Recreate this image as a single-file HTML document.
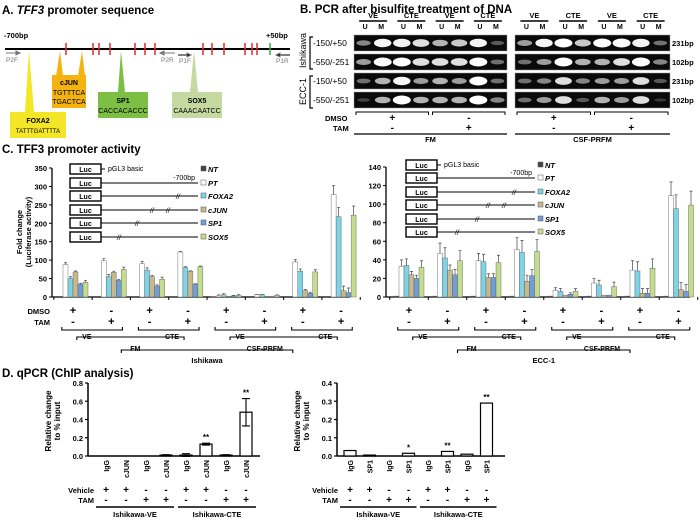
<!DOCTYPE html>
<html><head><meta charset="utf-8">
<style>
html,body{margin:0;padding:0;background:#fff;}
svg{display:block;font-family:"Liberation Sans",Arial,sans-serif;}
.b{font-weight:bold;}
</style></head>
<body>
<svg id="fig" width="700" height="524" viewBox="0 0 700 524" xmlns="http://www.w3.org/2000/svg">
<!-- Panel A -->
<g>
<text x="2" y="14" font-size="11.5" class="b">A. <tspan font-style="italic">TFF3</tspan> promoter sequence</text>
<text x="4" y="38" font-size="7.5" class="b">-700bp</text>
<text x="266" y="38" font-size="7.5" class="b">+50bp</text>
<line x1="5" y1="49" x2="290" y2="49" stroke="#000" stroke-width="2"/>
<g id="ticksA"></g>
<g stroke="#777" fill="#777" font-size="6.5">
<line x1="6" y1="53" x2="19" y2="53"/><path d="M20 53 l-4 -2 v4z"/><text x="6" y="62" stroke="none">P2F</text>
<line x1="162" y1="53" x2="175" y2="53"/><path d="M160 53 l4 -2 v4z"/><text x="161" y="62" stroke="none">P2R</text>
<line x1="178" y1="55" x2="189" y2="55" stroke="#000"/><path d="M191 55 l-4 -2 v4z" fill="#000"/><text x="179" y="63" stroke="none">P1F</text>
<line x1="278" y1="55" x2="290" y2="55" stroke="#000"/><path d="M276 55 l4 -2 v4z" fill="#000"/><text x="276" y="63" stroke="none">P1R</text>
</g>
<polygon points="29,51 25,112 34,112" fill="#f3e626"/>
<rect x="10" y="112" width="56" height="26" fill="#f3e626"/>
<text x="38" y="123" font-size="7" class="b" text-anchor="middle">FOXA2</text>
<text x="38" y="133" font-size="6" text-anchor="middle">TATTTGATTTTA</text>
<polygon points="60,51 56,76 63,76" fill="#f5b30f"/><polygon points="82,51 78,76 85,76" fill="#f5b30f"/>
<rect x="52" y="75" width="34" height="33" fill="#f5b30f"/>
<text x="69" y="85" font-size="7" class="b" text-anchor="middle">cJUN</text>
<text x="69" y="95" font-size="7" text-anchor="middle">TGTTTCA</text>
<text x="69" y="104" font-size="7" text-anchor="middle">TGACTCA</text>
<polygon points="121,51 118,92 125,92" fill="#7cbf44"/>
<rect x="98" y="92" width="50" height="26" fill="#7cbf44"/>
<text x="123" y="103" font-size="7" class="b" text-anchor="middle">SP1</text>
<text x="123" y="113" font-size="7" text-anchor="middle">CACCACACCC</text>
<polygon points="194,51 190,92 198,92" fill="#c5d9a0"/>
<rect x="172" y="92" width="50" height="26" fill="#c5d9a0"/>
<text x="197" y="103" font-size="7" class="b" text-anchor="middle">SOX5</text>
<text x="197" y="113" font-size="7" text-anchor="middle">CAAACAATCC</text>
</g>
<!-- Panel B -->
<g>
<text x="300" y="13" font-size="11.5" class="b">B. PCR after bisulfite treatment of DNA</text>
<g font-size="8.5">
<text x="313" y="46">-150/+50</text><text x="313" y="65">-550/-251</text><text x="313" y="84">-150/+50</text><text x="313" y="103">-550/-251</text>
<text transform="translate(306,68) rotate(-90)" font-size="9">Ishikawa</text>
<text transform="translate(306,105) rotate(-90)" font-size="9">ECC-1</text>
<path d="M313 37 h-3 v32 h3 M313 76 h-3 v32 h3" fill="none" stroke="#000" stroke-width="1.2"/>
</g>
<g id="gelB"></g>
<g font-size="7.5" class="b">
<text x="672" y="46">231bp</text><text x="672" y="65">102bp</text><text x="672" y="84">231bp</text><text x="672" y="103">102bp</text>
</g>
<g class="b" font-size="7.5">
<text x="325" y="121">DMSO</text><text x="333" y="131">TAM</text>
</g>
</g>
<!-- Panel C -->
<g>
<text x="2" y="153" font-size="11.5" class="b">C. TFF3 promoter activity</text>
<text transform="translate(22,232) rotate(-90)" font-size="7.5" class="b" text-anchor="middle">Fold change</text>
<text transform="translate(31,232) rotate(-90)" font-size="7.5" class="b" text-anchor="middle">(Luciferase activity)</text>
<g id="chartL"></g><g id="chartR"></g>
</g>
<!-- Panel D -->
<g>
<text x="2" y="377" font-size="11.5" class="b">D. qPCR (ChIP analysis)</text>
<g id="chartD1"></g><g id="chartD2"></g>
</g>
</svg>
<script>
// ===== data =====
const tickPositionsA = [66,93,99,110,135,145,155,203,212,224,245,252,257];
const seriesNames = ['NT','PT','FOXA2','cJUN','SP1','SOX5'];
const seriesColors = ['#444','#fff','#7fd3e6','#c8b98c','#6f9fd8','#c3dc8e'];
const ishiNT   = [0,0,0,0,1,0,0,0];
const ishiPT   = [88,98,90,122,3,6,95,278];
const ishiFOXA2= [50,55,73,80,6,6,70,218];
const ishiCJUN = [68,67,55,70,2,1,17,17];
const ishiSP1  = [35,45,30,35,3,1,10,12];
const ishiSOX5 = [40,75,48,82,4,5,68,222];
const ishiErr  = [5,6,6,2,3,1,6,25];
const eccNT    = [1,1,1,1,1,1,1,1];
const eccPT    = [33,47,39,51,7,15,29,109];
const eccFOXA2 = [34,42,38,48,6,13,28,95];
const eccCJUN  = [24,29,21,17,2,2,4,8];
const eccSP1   = [20,24,21,23,3,2,4,6];
const eccSOX5  = [32,39,37,49,6,11,31,99];
const eccErr   = [7,11,8,13,3,5,10,15];
const dmsoSigns = ['+','-','+','-','+','-','+','-'];
const tamSigns  = ['-','+','-','+','-','+','-','+'];
const ishiTicks = [0,50,100,150,200,250,300,350];
const eccTicks  = [0,20,40,60,80,100,120,140];
const chipCats1 = ['IgG','cJUN','IgG','cJUN','IgG','cJUN','IgG','cJUN'];
const chipVals1 = [0,0,0,0.01,0.01,0.13,0.01,0.48];
const chipErr1  = [0,0,0,0.005,0.015,0.01,0.005,0.15];
const chipStar1 = ['','','','','','**','','**'];
const chipTicks1 = [0,0.2,0.4,0.6,0.8];
const chipCats2 = ['IgG','SP1','IgG','SP1','IgG','SP1','IgG','SP1'];
const chipVals2 = [0.03,0.005,0,0.015,0,0.025,0.01,0.29];
const chipStar2 = ['','','','*','','**','','**'];
const chipTicks2 = [0,0.1,0.2,0.3,0.4];
const vehSigns = ['+','+','-','-','+','+','-','-'];
const tamD = ['-','-','+','+','-','-','+','+'];
const gelIntensity = [
 [0.4,0.9,0.9,0.8,0.6,0.7,0.9,0.2, 0.5,0.9,1,0.7,1,1,0.9,0.3],
 [0.5,1,1,0.8,0.8,0.8,1,0.3, 0.3,0.5,1,0.6,0.6,0.8,1,0.4],
 [0.3,0.6,0.9,0.5,0.6,0.5,1,0.3, 0.3,0.4,0.8,0.4,0.5,0.5,0.8,0.2],
 [0.1,0.6,1,0.6,0.6,0.6,1,0.4, 0.3,0.5,0.8,0.2,0.6,0.5,0.8,0.05]
];
// ===== helpers =====
const NS='http://www.w3.org/2000/svg';
function mk(parent,tag,attrs,text){const e=document.createElementNS(NS,tag);for(const k in attrs)e.setAttribute(k,attrs[k]);if(text!==undefined)e.textContent=text;parent.appendChild(e);return e;}
// A ticks
const tA=document.getElementById('ticksA');
tickPositionsA.forEach(x=>{const l=mk(tA,'line',{x1:x,y1:43,x2:x,y2:55,stroke:'#e8262b','stroke-width':1.5});

});
{const l=mk(tA,'line',{x1:270,y1:43,x2:270,y2:55,stroke:'#3aa54a','stroke-width':1.5});}
// B gels
const gB=document.getElementById('gelB');
const rowsY=[35,54,73,92];
[[354,507],[515,670]].forEach((g,gi)=>{
  const w=g[1]-g[0];
  rowsY.forEach((ry,ri)=>{
    const r=mk(gB,'rect',{x:g[0],y:ry,width:w,height:16,fill:'#0a0a0a',stroke:'#999','stroke-width':0.5});
    
    
    for(let k=0;k<8;k++){const v=gelIntensity[ri][gi*8+k];const cx=g[0]+w*(k+0.5)/8;
      mk(gB,'ellipse',{cx:cx,cy:ry+8,rx:6+3*v,ry:1.5+3*v,fill:'#fff',opacity:Math.min(1,0.15+v*0.9)});}
  });
  ['VE','CTE','VE','CTE'].forEach((t,k)=>{const cx=g[0]+w*(2*k+1)/8;
    mk(gB,'text',{x:cx,y:18,'font-size':7.5,'text-anchor':'middle','font-weight':'bold'},t);
    mk(gB,'line',{x1:cx-14,y1:21,x2:cx+14,y2:21,stroke:'#000','stroke-width':1.5});
    mk(gB,'text',{x:cx-8,y:29,'font-size':7,'text-anchor':'middle','font-weight':'bold'},'U');
    mk(gB,'text',{x:cx+8,y:29,'font-size':7,'text-anchor':'middle','font-weight':'bold'},'M');});
  [[g[0]+2,g[0]+w/2-2,'+','-'],[g[0]+w/2+2,g[1]-2,'-','+']].forEach(b=>{
    mk(gB,'path',{d:`M${b[0]} 115 v-3 h${b[1]-b[0]} v3`,fill:'none',stroke:'#000'});
    mk(gB,'text',{x:(b[0]+b[1])/2,y:121,'font-size':10,'text-anchor':'middle','font-weight':'bold'},b[2]);
    mk(gB,'text',{x:(b[0]+b[1])/2,y:131,'font-size':10,'text-anchor':'middle','font-weight':'bold'},b[3]);});
  mk(gB,'line',{x1:g[0],y1:134,x2:g[1],y2:134,stroke:'#000','stroke-width':1.2});
  mk(gB,'text',{x:(g[0]+g[1])/2,y:142,'font-size':7.5,'text-anchor':'middle','font-weight':'bold'},gi?'CSF-PRFM':'FM');
});
// C charts
function luciferase(id,o){
  const g=document.getElementById(id);
  const y=v=>o.y0-(v/o.max)*(o.y0-o.yTop);
  const gw=o.gw;
  mk(g,'line',{x1:o.x0,y1:o.y0,x2:o.x1,y2:o.y0,stroke:'#000','stroke-width':1.3});
  mk(g,'line',{x1:o.x0,y1:o.yTop,x2:o.x0,y2:o.y0,stroke:'#000','stroke-width':1.3});
  o.ticks.forEach(t=>{mk(g,'line',{x1:o.x0-3,y1:y(t),x2:o.x0,y2:y(t),stroke:'#000'});
    mk(g,'text',{x:o.x0-5,y:y(t)+3,'font-size':7.5,'text-anchor':'end','font-weight':'bold'},t);});
  for(let i=0;i<=8;i++){const x=o.x0+o.off+gw*i-gw/2;mk(g,'line',{x1:x,y1:o.y0,x2:x,y2:o.y0+3,stroke:'#000'});}
  const series=o.series;
  for(let gi=0;gi<8;gi++){
    const cx=o.x0+o.off+gw*gi;
    series.forEach((s,si)=>{
      const v=s[gi];const bx=cx-15+si*5;
      const r=mk(g,'rect',{x:bx,y:y(v),width:5,height:o.y0-y(v),fill:seriesColors[si],stroke:'#555','stroke-width':0.4});
      
      
      if(si>0&&v>2){const e=o.err[gi]*(si===3||si===4?0.5:1);
        mk(g,'path',{d:`M${bx+2.5} ${y(v)} V${y(v+e)} M${bx+1} ${y(v+e)} h3`,stroke:'#444','stroke-width':0.7,fill:'none'});}
    });
    mk(g,'text',{x:cx,y:o.y0+17,'font-size':11,'text-anchor':'middle','font-weight':'bold'},dmsoSigns[gi]);
    mk(g,'text',{x:cx,y:o.y0+28,'font-size':11,'text-anchor':'middle','font-weight':'bold'},tamSigns[gi]);
  }
  for(let p=0;p<4;p++){const a=o.x0+o.off+gw*2*p-gw/2+8,b=a+gw*2-16;
    mk(g,'path',{d:`M${a} ${o.y0+30} v3 h${b-a} v-3`,fill:'none',stroke:'#000','stroke-width':1.1});}
  for(let q=0;q<2;q++){const a=o.x0+o.off+gw*4*q-gw/2+23,b=a+gw*4-46;
    mk(g,'path',{d:`M${a} ${o.y0+43} v-3 h${b-a} v3`,fill:'none',stroke:'#000','stroke-width':1.1});
    mk(g,'text',{x:a+10,y:o.y0+42,'font-size':7,'font-weight':'bold','text-anchor':'middle'},'VE');
    mk(g,'text',{x:b-12,y:o.y0+42,'font-size':7,'font-weight':'bold','text-anchor':'middle'},'CTE');}
  const a=o.x0+o.off+gw*1.5-gw/2+10,b=o.x0+o.off+gw*6.5-gw/2-10;
  mk(g,'path',{d:`M${a} ${o.y0+56} v-3 h${b-a} v3`,fill:'none',stroke:'#000','stroke-width':1.1});
  mk(g,'text',{x:a+14,y:o.y0+54,'font-size':7,'font-weight':'bold','text-anchor':'middle'},'FM');
  mk(g,'text',{x:b-28,y:o.y0+54,'font-size':7,'font-weight':'bold','text-anchor':'middle'},'CSF-PRFM');
  mk(g,'text',{x:(a+b)/2,y:o.y0+66,'font-size':7.5,'font-weight':'bold','text-anchor':'middle'},o.name);
  if(o.labels){mk(g,'text',{x:o.x0-2,y:o.y0+17,'font-size':7.5,'font-weight':'bold','text-anchor':'end'},'DMSO');
    mk(g,'text',{x:o.x0-2,y:o.y0+28,'font-size':7.5,'font-weight':'bold','text-anchor':'end'},'TAM');}
  const L=o.leg;
  L.ys.forEach((ly,k)=>{
    mk(g,'rect',{x:L.bx,y:ly-5,width:31,height:10,fill:'#fff',stroke:'#000','stroke-width':1.4});
    mk(g,'text',{x:L.bx+15.5,y:ly+3,'font-size':7,'font-weight':'bold','text-anchor':'middle'},'Luc');
    if(k===0){mk(g,'line',{x1:L.bx+31,y1:ly,x2:L.bx+35,y2:ly,stroke:'#000'});
      mk(g,'text',{x:L.bx+38,y:ly+2,'font-size':7},'pGL3 basic');}
    else{mk(g,'line',{x1:L.bx+31,y1:ly,x2:L.ex,y2:ly,stroke:'#000'});
      L.breaks[k].forEach(bx=>mk(g,'text',{x:bx,y:ly+3,'font-size':7,'font-style':'italic'},'//'));}
    if(k===1)mk(g,'text',{x:L.ex-3,y:ly-3,'font-size':7,'text-anchor':'end'},'-700bp');
    mk(g,'rect',{x:L.ex+3,y:L.ys[k]-3,width:5,height:5,fill:seriesColors[k],stroke:'#555','stroke-width':0.5});
    mk(g,'text',{x:L.ex+10,y:L.ys[k]+3,'font-size':7.5,'font-weight':'bold','font-style':'italic'},seriesNames[k]);
  });
}
luciferase('chartL',{x0:52,x1:350,y0:297,yTop:168,max:350,ticks:ishiTicks,gw:38.3,off:21,err:ishiErr,
  series:[ishiNT,ishiPT,ishiFOXA2,ishiCJUN,ishiSP1,ishiSOX5],name:'Ishikawa',labels:true,
  leg:{bx:70,ex:198,ys:[169,183,196,210,223,237],breaks:[[],[],[176],[150,166],[135],[117]]}});
luciferase('chartR',{x0:386,x1:690,y0:297,yTop:167,max:140,ticks:eccTicks,gw:38.5,off:23,err:eccErr,
  series:[eccNT,eccPT,eccFOXA2,eccCJUN,eccSP1,eccSOX5],name:'ECC-1',labels:false,
  leg:{bx:406,ex:535,ys:[165,178,192,205,219,232],breaks:[[],[],[512],[486,502],[475],[455]]}});
// D charts
function chip(id,o){
  const g=document.getElementById(id);
  const y=v=>o.y0-(v/o.max)*(o.y0-o.yTop);
  mk(g,'line',{x1:o.x0,y1:o.y0,x2:o.x1,y2:o.y0,stroke:'#000','stroke-width':1.5});
  mk(g,'line',{x1:o.x0,y1:o.yTop,x2:o.x0,y2:o.y0,stroke:'#000','stroke-width':1.5});
  o.ticks.forEach(t=>{mk(g,'line',{x1:o.x0-3,y1:y(t),x2:o.x0,y2:y(t),stroke:'#000','stroke-width':1.2});
    mk(g,'text',{x:o.x0-5,y:y(t)+3,'font-size':7.5,'text-anchor':'end','font-weight':'bold'},t.toFixed(1));});
  mk(g,'text',{transform:`translate(${o.x0-37},${o.y0-35}) rotate(-90)`,'font-size':8,'font-weight':'bold','text-anchor':'middle'},'Relative change');
  mk(g,'text',{transform:`translate(${o.x0-28},${o.y0-35}) rotate(-90)`,'font-size':8,'font-weight':'bold','text-anchor':'middle'},'to % input');
  o.vals.forEach((v,i)=>{
    const cx=o.cx0+o.step*i;
    const r=mk(g,'rect',{x:cx-6,y:y(v),width:12,height:o.y0-y(v),fill:'#fff',stroke:'#000','stroke-width':1.2});
    
    
    const e=o.err?o.err[i]:0;
    if(e>0)mk(g,'path',{d:`M${cx} ${y(v-e)} V${y(v+e)} M${cx-4} ${y(v+e)} h8 M${cx-4} ${y(v-e)} h8`,stroke:'#000','stroke-width':1.1,fill:'none'});
    if(o.stars[i])mk(g,'text',{x:cx,y:y(v+e)-3,'font-size':8,'text-anchor':'middle','font-weight':'bold'},o.stars[i]);
    mk(g,'text',{transform:`translate(${cx+3},${o.y0+4}) rotate(-90)`,'font-size':7,'font-weight':'bold','text-anchor':'end'},o.cats[i]);
    mk(g,'text',{x:cx,y:o.y0+37,'font-size':10,'text-anchor':'middle','font-weight':'bold'},vehSigns[i]);
    mk(g,'text',{x:cx,y:o.y0+47,'font-size':10,'text-anchor':'middle','font-weight':'bold'},tamD[i]);
  });
  mk(g,'text',{x:o.cx0-12,y:o.y0+37,'font-size':7.5,'text-anchor':'end','font-weight':'bold'},'Vehicle');
  mk(g,'text',{x:o.cx0-12,y:o.y0+47,'font-size':7.5,'text-anchor':'end','font-weight':'bold'},'TAM');
  const a1=o.cx0-10,b1=o.cx0+o.step*3+8,a2=o.cx0+o.step*4-8,b2=o.cx0+o.step*7+10;
  mk(g,'line',{x1:a1,y1:o.y0+51,x2:b1,y2:o.y0+51,stroke:'#000','stroke-width':1.5});
  mk(g,'line',{x1:a2,y1:o.y0+51,x2:b2,y2:o.y0+51,stroke:'#000','stroke-width':1.5});
  mk(g,'text',{x:(a1+b1)/2,y:o.y0+61,'font-size':7.5,'text-anchor':'middle','font-weight':'bold'},'Ishikawa-VE');
  mk(g,'text',{x:(a2+b2)/2,y:o.y0+61,'font-size':7.5,'text-anchor':'middle','font-weight':'bold'},'Ishikawa-CTE');
}
chip('chartD1',{x0:88,x1:260,y0:456,yTop:383,max:0.8,ticks:chipTicks1,vals:chipVals1,err:chipErr1,stars:chipStar1,cats:chipCats1,cx0:106,step:20});
chip('chartD2',{x0:337,x1:505,y0:456,yTop:383,max:0.4,ticks:chipTicks2,vals:chipVals2,err:null,stars:chipStar2,cats:chipCats2,cx0:350,step:19.5});
</script>
</body></html>
